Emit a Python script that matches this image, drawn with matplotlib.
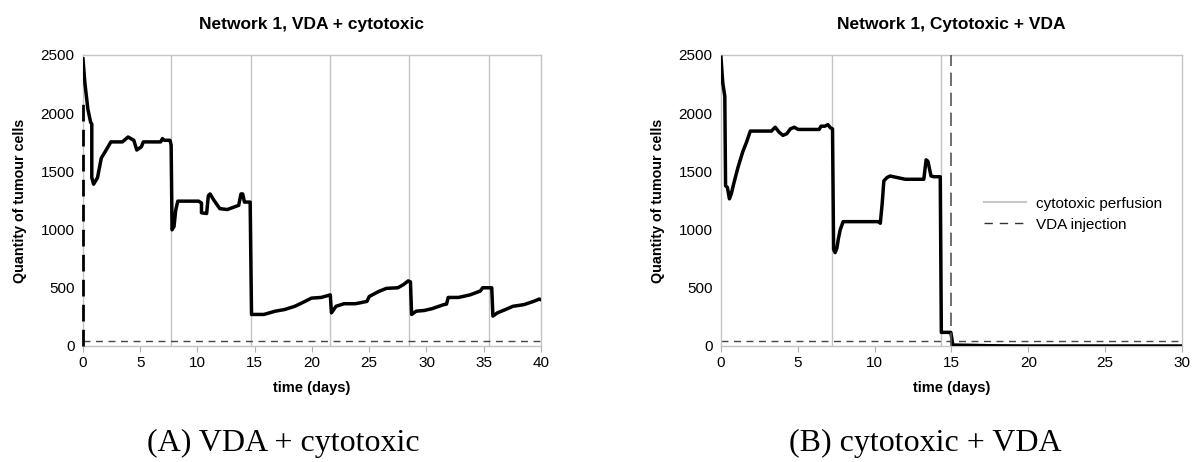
import numpy as np
import matplotlib
matplotlib.use('Agg')
import matplotlib.pyplot as plt

plt.rcParams['font.family'] = ['Liberation Sans', 'DejaVu Sans']

# panel A: VDA + cytotoxic
t_a = [0, 0.17, 0.43, 0.67, 0.77, 0.77, 0.93, 1.27, 1.6, 1.94, 2.44, 3.44, 3.94, 4.44, 4.7,
       5.1, 5.27, 6.78, 6.94, 7.1, 7.6, 7.7, 7.78, 7.95, 8.1, 8.28, 10.1, 10.35, 10.35, 10.8,
       10.95, 11.1, 11.45, 11.95, 12.6, 13.6, 13.8, 13.95, 14.1, 14.6, 14.72, 15.8, 16.8, 17.6,
       18.5, 19.1, 19.95, 20.8, 21.6, 21.7, 22.1, 22.8, 23.8, 24.8, 25.0, 25.8, 26.5, 27.5,
       28.0, 28.4, 28.6, 28.7, 29.1, 29.8, 30.5, 31.5, 31.75, 31.9, 32.8, 33.8, 34.7, 34.9,
       35.7, 35.8, 36.2, 36.9, 37.55, 38.5, 39.35, 39.85, 40]
n_a = [2466, 2257, 2033, 1921, 1907, 1446, 1390, 1446, 1614, 1669, 1753, 1753, 1795, 1767, 1683,
       1711, 1753, 1753, 1781, 1767, 1767, 1725, 998, 1026, 1166, 1244, 1244, 1228, 1144, 1138,
       1292, 1306, 1250, 1180, 1172, 1208, 1306, 1306, 1236, 1236, 271, 271, 299, 313,
       341, 369, 411, 417, 439, 285, 341, 363, 363, 383, 425, 467, 495, 500,
       528, 559, 551, 271, 299, 305, 321, 355, 360, 417, 417, 439, 472, 500,
       500, 257, 285, 313, 341, 355, 383, 403, 397]
perf_a = [7.7, 14.7, 21.6, 28.5, 35.5]
vda_a = 0

# panel B: cytotoxic + VDA
t_b = [0, 0.12, 0.25, 0.3, 0.42, 0.55, 0.67, 0.85, 1.1, 1.42, 1.67, 1.91, 3.28, 3.53, 3.78,
       4.03, 4.28, 4.52, 4.77, 5.02, 6.39, 6.51, 6.76, 6.96, 7.13, 7.26, 7.33, 7.43, 7.55,
       7.63, 7.76, 7.95, 10.24, 10.37, 10.49, 10.6, 10.8, 11.0, 12.0, 13.2, 13.35, 13.47,
       13.67, 13.85, 14.27, 14.34, 14.96, 15.09, 16.0, 17.5, 20, 30]
n_b = [2480, 2257, 2145, 1376, 1362, 1264, 1306, 1404, 1530, 1669, 1753, 1846, 1846, 1879, 1837,
       1809, 1823, 1865, 1879, 1860, 1860, 1888, 1888, 1901, 1873, 1865, 830, 802, 844,
       914, 998, 1068, 1068, 1054, 1222, 1418, 1446, 1460, 1432, 1432, 1599, 1586,
       1460, 1454, 1454, 117, 117, 8, 6, 2, 0, 0]
perf_b = [7.2, 14.35]
vda_b = 15

threshold = 42

fig = plt.figure(figsize=(11.99, 4.62), dpi=100)
ax1 = fig.add_axes([0.0692, 0.2511, 0.382, 0.63])
ax2 = fig.add_axes([0.6013, 0.2511, 0.3845, 0.63])

for ax, t, n, perf, xmax, title in [(ax1, t_a, n_a, perf_a, 40, 'Network 1, VDA + cytotoxic'),
                                     (ax2, t_b, n_b, perf_b, 30, 'Network 1, Cytotoxic + VDA')]:
    for p in perf:
        ax.axvline(p, color='#c4c4c4', lw=1, zorder=1)
    ax.axhline(threshold, color='#444444', lw=1, ls=(0, (5, 4)), zorder=2)
    ax.plot(t, n, color='black', lw=2.5, zorder=3, solid_joinstyle='round')
    ax.set_xlim(0, xmax)
    ax.set_ylim(0, 2500)
    ax.set_xticks(np.arange(0, xmax + 1, 5))
    ax.set_yticks(np.arange(0, 2501, 500))
    ax.set_title(title, fontsize=12.5, fontweight='bold', pad=19)
    ax.set_xlabel('time (days)', fontsize=10.5, fontweight='bold', labelpad=8)
    ax.set_ylabel('Quantity of tumour cells', fontsize=10.3, fontweight='bold', labelpad=10)
    ax.tick_params(axis='x', direction='out', length=4, color='#b0b0b0', labelsize=11, pad=3)
    ax.tick_params(axis='y', length=0, labelsize=11, pad=6)
    for s in ax.spines.values():
        s.set_color('#c4c4c4')
        s.set_linewidth(1)

# VDA injections
ax1.plot([vda_a, vda_a], [0, 2080], color='black', lw=2, ls=(0, (6, 3)), zorder=4, clip_on=False)
ax2.axvline(vda_b, color='#555555', lw=1.2, ls=(0, (8, 4)), zorder=4)

# legend
h1, = ax2.plot([], [], color='#c8c8c8', lw=1.5, label='cytotoxic perfusion')
h2, = ax2.plot([], [], color='#333333', lw=1, ls=(0, (6, 5)), label='VDA injection')
ax2.legend(handles=[h1, h2], loc='upper left', bbox_to_anchor=(0.54, 0.56), frameon=False,
           fontsize=11, handlelength=2.8, handletextpad=0.6, labelspacing=0.45)

# captions
fig.text(0.236, 0.024, '(A) VDA + cytotoxic', fontsize=23, family='Liberation Serif',
         ha='center', va='baseline')
fig.text(0.772, 0.024, '(B) cytotoxic + VDA', fontsize=23, family='Liberation Serif',
         ha='center', va='baseline')

plt.savefig('out.png', dpi=100)
